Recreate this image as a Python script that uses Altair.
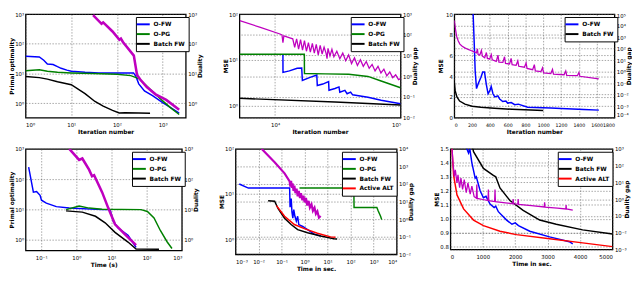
import altair as alt
import pandas as pd

# ---------------- colours / names ----------------
COLORS = {"O-FW": "#0000ff", "O-PG": "#008000", "Batch FW": "#000000", "Active ALT": "#ff0000"}
MAG = "#bf00bf"

# ---------------- panel 1: iteration number (log) ----------------
p1_x_ofw = [1, 2, 2.5, 3, 4, 5, 6, 8, 10, 20, 40, 100, 230, 260, 300, 400, 600, 1000, 1500, 2300]
p1_y_ofw = [38, 36, 28, 21, 20, 17, 15, 13, 12, 11, 10.5, 10.5, 10.5, 8, 4.5, 2.6, 1.8, 1.05, 0.72, 0.47]
p1_x_opg = [1, 2, 3, 5, 10, 30, 100, 200, 300, 400, 600, 1000, 1500, 2300]
p1_y_opg = [12.5, 13.5, 12, 11, 10.5, 10, 9.5, 8.5, 6.8, 4.5, 2.5, 1.2, 0.7, 0.42]
p1_x_bfw = [1, 2, 3, 5, 10, 20, 33, 50, 80, 112, 150, 300, 530]
p1_y_bfw = [8, 7.3, 6.5, 5.3, 4.2, 2.1, 1.15, 0.8, 0.58, 0.47, 0.48, 0.47, 0.46]
p1_x_dual = [30, 46, 50, 80, 113, 122, 135, 234, 275, 324, 450, 700, 1200, 2300]
p1_y_dual = [930, 470, 525, 260, 137, 150, 115, 40, 9, 6.3, 3.5, 2.0, 1.3, 0.6]

# ---------------- panel 2 ----------------
p2_x_ofw = [11550, 11560, 13000, 15000, 16300, 16500, 19000, 21500, 21700, 24000, 26700, 26900,
            30000, 32300, 32800, 36000, 37500, 40000, 41500, 45000, 55000, 70000, 100000]
p2_y_ofw = [13.3, 5.4, 5.8, 6.6, 6.7, 3.6, 4.2, 4.7, 2.8, 3.0, 3.4, 2.2,
            2.4, 2.6, 2.0, 2.2, 1.85, 2.0, 1.75, 1.7, 1.55, 1.34, 1.12]
p2_x_opg = [5200, 17100, 17150, 25000, 38600, 55000, 70000, 100000]
p2_y_opg = [13.3, 13.3, 5.1, 5.0, 4.9, 4.4, 3.5, 2.5]
p2_x_bfw = [5200, 30000, 100000]
p2_y_bfw = [1.47, 1.22, 1.05]
p2_x_dual = [5230, 7640, 10940, 11350, 11550, 11750, 13100, 13830, 14330, 14850, 15400, 15960,
             16550, 17150, 17780, 18440, 19100, 19820, 20540, 21290, 22080, 22880, 23710, 24580,
             25480, 25950, 26410, 27380, 28380, 29420, 31050, 32800, 34620, 36520, 38550, 40680,
             42930, 45310, 47820, 50470, 53270, 56230, 59340, 62630, 66100, 69760, 73630, 77710,
             82010, 86600, 91400, 96400, 100000]
p2_y_dual = [478, 228, 109, 98, 42, 88, 71, 64, 25, 64, 20, 58,
             18, 52, 16, 42, 14.6, 38, 13, 34, 10.7, 31, 11.8, 25,
             13, 7, 22, 9.6, 20, 8.7, 16, 7, 13, 5.6, 10.7, 4.1,
             7.8, 3.3, 6.3, 3.0, 5.1, 2.4, 3.7, 1.8, 3.0, 1.43, 2.19, 1.04,
             1.59, 0.85, 1.16, 0.68, 0.76]

# ---------------- panel 3 ----------------
p3_x_ofw = [205, 212, 225, 235, 250, 270, 300, 320, 340, 360, 380, 400, 415, 435, 455, 490, 510,
            545, 580, 600, 640, 680, 720, 825, 1085, 1200, 1457, 1625]
p3_y_ofw = [11, 10, 7, 4.5, 2.8, 3.3, 3.9, 4.4, 4.4, 3.2, 2.3, 2.6, 3.0, 2.3, 2.0, 2.1, 1.8,
            1.55, 1.6, 1.4, 1.45, 1.25, 1.3, 1.0, 0.92, 0.88, 0.78, 0.72]
p3_x_bfw = [0, 10, 30, 60, 120, 200, 300, 450, 650, 1000]
p3_y_bfw = [3.4, 2.6, 2.0, 1.6, 1.3, 1.1, 1.0, 0.9, 0.8, 0.68]
p3_x_dual = [0, 15, 26, 45, 63, 89, 119, 156, 193, 230, 249, 260, 268, 286, 305, 316, 342, 361,
             372, 398, 416, 427, 472, 491, 502, 546, 565, 576, 621, 639, 650, 695, 714, 725, 788,
             807, 818, 881, 900, 911, 974, 992, 1004, 1085, 1104, 1115, 1234, 1253, 1264, 1383,
             1401, 1412, 1624]
p3_y_dual = [28000, 4300, 1200, 460, 245, 158, 115, 84, 65, 50, 42, 95, 30, 27, 69, 22, 16, 45,
             14, 12.6, 30, 10.5, 7.6, 27, 6.6, 6.3, 19.5, 5.2, 4.6, 14, 4.0, 3.5, 8.6, 2.9, 2.4,
             5.5, 1.86, 1.46, 4.0, 1.13, 1.0, 2.1, 0.78, 0.68, 1.55, 0.60, 0.53, 1.13, 0.47, 0.44,
             0.83, 0.39, 0.23]

# ---------------- panel 4: time (s) ----------------
p4_x_ofw = [0.044, 0.06, 0.074, 0.093, 0.102, 0.14, 0.27, 0.63, 5.4, 9.1, 11.2, 15.5, 29.5, 50]
p4_y_ofw = [250, 37, 39, 29, 20, 16, 12.3, 11, 9.8, 9.8, 4.1, 2.4, 1.38, 0.55]
p4_x_opg = [0.51, 1.2, 2.3, 5.4, 69, 105, 162, 245, 380, 525]
p4_y_opg = [9.8, 12.9, 11, 10, 9.8, 8.5, 5.2, 2.0, 0.85, 0.51]
p4_x_bfw = [0.51, 1.48, 3.5, 6.6, 12.6, 29.5, 50, 224]
p4_y_bfw = [8.9, 8.1, 5.9, 3.6, 1.74, 0.83, 0.49, 0.48]
p4_x_dual = [0.63, 1.2, 1.48, 2.3, 2.8, 3.2, 5.4, 8.1, 12.6, 23.4, 50]
p4_y_dual = [1000, 430, 480, 205, 125, 135, 37, 11, 3.2, 1.55, 0.66]

# ---------------- panel 5 ----------------
p5_x_ofw = [0.00145, 0.0036, 0.224, 0.234, 0.263, 0.282, 0.309, 0.339, 0.38, 0.437, 0.5, 0.56,
            0.83, 1.35, 2.63, 5.0]
p5_y_ofw = [16.6, 13.5, 13.5, 5.1, 7.9, 4.0, 2.9, 4.5, 3.2, 2.5, 3.2, 2.1, 1.9, 1.62, 1.29, 1.17]
p5_x_opg = [0.6, 138, 141, 1380, 1585, 2000, 2240]
p5_y_opg = [13.5, 13.5, 5.0, 5.0, 4.2, 3.2, 2.7]
p5_x_bfw = [0.026, 0.05, 0.071, 0.135, 0.26, 0.5, 1.35, 5.0, 19, 26]
p5_y_bfw = [7.1, 6.9, 4.7, 2.9, 2.1, 1.62, 1.38, 1.17, 1.02, 1.0]
p5_x_alt = [0.06, 0.135, 0.36, 0.98, 3.6, 13.5, 22]
p5_y_alt = [5.5, 3.2, 2.1, 1.7, 1.35, 1.12, 1.1]
p5_x_dual = [0.0135, 0.05, 0.135, 0.224, 0.24, 0.26, 0.28, 0.3, 0.33, 0.36, 0.4, 0.45, 0.5, 0.56,
             0.63, 0.7, 0.8, 0.9, 1.0, 1.15, 1.3, 1.5, 1.7, 2.0, 2.3, 2.7, 3.1, 3.6, 4.2, 5.0]
p5_y_dual = [10000, 1740, 400, 141, 70, 150, 60, 110, 40, 80, 30, 55, 20, 40, 16, 30, 12, 22, 9,
             16, 6, 11, 4.5, 7, 3, 4.5, 2, 2.8, 1.2, 1.5]

# ---------------- panel 6 ----------------
p6_x_ofw = [500, 510, 560, 600, 663, 700, 765, 800, 918, 1020, 1100, 1224, 1350, 1400, 1480, 1735,
            1900, 2000, 2100, 2450, 3060, 3670, 3775]
p6_y_ofw = [1.55, 1.5, 1.47, 1.5, 1.40, 1.36, 1.29, 1.3, 1.2, 1.15, 1.16, 1.105, 1.08, 1.09, 1.05,
            0.99, 0.96, 0.97, 0.95, 0.91, 0.87, 0.835, 0.82]
p6_x_bfw = [650, 714, 1020, 1326, 1400, 1530, 1837, 2245, 2755, 3265, 4080, 5000]
p6_y_bfw = [1.55, 1.48, 1.36, 1.31, 1.3, 1.22, 1.13, 1.06, 0.99, 0.96, 0.92, 0.89]
p6_x_alt = [30, 50, 100, 204, 408, 714, 1020, 1530, 2040, 3060, 4080, 5000]
p6_y_alt = [1.6, 1.5, 1.31, 1.17, 1.07, 0.99, 0.95, 0.91, 0.886, 0.857, 0.827, 0.80]
p6_x_dual = [51, 82, 122, 153, 204, 235, 286, 326, 377, 428, 490, 541, 612, 663, 734, 800, 816,
             830, 1000, 1160, 1173, 1185, 1365, 1377, 1390, 1700, 1925, 1938, 1950, 2080, 2091,
             2105, 2500, 2895, 2907, 2920, 3300, 3560, 3570, 3580, 3775]
p6_y_dual = [1000, 135, 22, 55, 9.3, 28, 4.8, 18, 3.8, 14.5, 2.4, 9.3, 2.0, 6, 1.4, 1.15, 7.4,
             1.1, 0.95, 0.82, 3.8, 0.8, 0.72, 3.8, 0.71, 0.6, 0.53, 1.0, 0.52, 0.5, 1.0, 0.49,
             0.41, 0.34, 0.65, 0.33, 0.29, 0.26, 0.45, 0.26, 0.22]

# ---------------- helpers ----------------
SUP = ("['10\u207b\u2074','10\u207b\u00b3','10\u207b\u00b2','10\u207b\u00b9','10\u2070',"
       "'10\u00b9','10\u00b2','10\u00b3','10\u2074','10\u2075'][round(log(datum.value)/LN10)+4]")

EXT = 10


def make_df(items):
    rows = []
    for name, xs, ys in items:
        for i, (a, b) in enumerate(zip(xs, ys)):
            rows.append({"series": name, "x": a, "y": b, "i": i})
    return pd.DataFrame(rows)


def axis(title, cfg, orient=None, grid=True, flush=False):
    kw = dict(title=title, values=cfg["values"], grid=grid, labelOverlap=False)
    if cfg["type"] == "log":
        kw["labelExpr"] = SUP
    elif "format" in cfg:
        kw["format"] = cfg["format"]
    if "font" in cfg:
        kw["labelFontSize"] = cfg["font"]
    if flush:
        kw["labelFlush"] = True
    if orient is not None:
        kw["orient"] = orient
        kw["minExtent"] = EXT
        kw["maxExtent"] = EXT
        if orient == "right":
            kw["titleAngle"] = 270
            kw["titleBaseline"] = "top"
    return alt.Axis(**kw)


def scale(cfg):
    return alt.Scale(type=cfg["type"], domain=cfg["domain"], nice=False, zero=False)


def panel(items, dual_x, dual_y, xc, ylc, yrc, xt, ylt, yrt, w, h, rgrid, dual_w, rflush=False):
    names = [n for n, _, _ in items]
    lx = w - (56 if "Active ALT" in names else 51)
    dfl = make_df(items)
    dfr = make_df([("dual", dual_x, dual_y)])
    x = alt.X("x:Q", scale=scale(xc), axis=axis(xt, xc))
    left = alt.Chart(dfl).mark_line(strokeWidth=1.5, clip=True).encode(
        x=x,
        y=alt.Y("y:Q", scale=scale(ylc), axis=axis(ylt, ylc, orient="left")),
        color=alt.Color("series:N",
                        scale=alt.Scale(domain=names, range=[COLORS[n] for n in names]),
                        legend=alt.Legend(title=None, orient="none", legendX=lx, legendY=3,
                                          symbolType="M-1.9,0H1.9", symbolSize=49,
                                          symbolStrokeWidth=2, labelFontSize=6,
                                          labelFontWeight="bold", labelFont="DejaVu Sans",
                                          strokeColor="black", fillColor="white", padding=3,
                                          rowPadding=1, labelOffset=6, labelLimit=60)),
        detail="series:N",
        order="i:Q",
    )
    right = alt.Chart(dfr).mark_line(strokeWidth=dual_w, clip=True, color=MAG).encode(
        x=x,
        y=alt.Y("y:Q", scale=scale(yrc),
                axis=axis(yrt, yrc, orient="right", grid=rgrid, flush=rflush)),
        order="i:Q",
    )
    return alt.layer(left, right).resolve_scale(y="independent").properties(width=w, height=h)


def lg(lo, hi):
    return [10.0 ** e for e in range(lo, hi + 1)]


it_lbl = "Iteration number"

c1 = panel([("O-FW", p1_x_ofw, p1_y_ofw), ("O-PG", p1_x_opg, p1_y_opg), ("Batch FW", p1_x_bfw, p1_y_bfw)],
           p1_x_dual, p1_y_dual,
           {"type": "log", "domain": [1, 3200], "values": lg(0, 3)},
           {"type": "log", "domain": [0.33, 1000], "values": lg(0, 3)},
           {"type": "log", "domain": [0.33, 1000], "values": lg(0, 3)},
           it_lbl, "Primal optimality", "Duality", 164, 106, False, 2.6)

c2 = panel([("O-FW", p2_x_ofw, p2_y_ofw), ("O-PG", p2_x_opg, p2_y_opg), ("Batch FW", p2_x_bfw, p2_y_bfw)],
           p2_x_dual, p2_y_dual,
           {"type": "log", "domain": [5200, 100000], "values": lg(4, 5)},
           {"type": "log", "domain": [0.56, 100], "values": lg(0, 2)},
           {"type": "log", "domain": [0.01, 1000], "values": lg(-2, 3)},
           it_lbl, "MSE", "Duality gap", 165, 106, True, 1.3)

c3 = panel([("O-FW", p3_x_ofw, p3_y_ofw), ("Batch FW", p3_x_bfw, p3_y_bfw)],
           p3_x_dual, p3_y_dual,
           {"type": "linear", "domain": [0, 1800], "values": list(range(0, 1801, 200)), "format": "d",
            "font": 4.8},
           {"type": "linear", "domain": [0, 10], "values": [0, 2, 4, 6, 8, 10], "format": "d"},
           {"type": "log", "domain": [0.0001, 100000], "values": lg(-4, 5)},
           it_lbl, "MSE", "Duality gap", 164, 106, True, 1.3, rflush=True)

c4 = panel([("O-FW", p4_x_ofw, p4_y_ofw), ("O-PG", p4_x_opg, p4_y_opg), ("Batch FW", p4_x_bfw, p4_y_bfw)],
           p4_x_dual, p4_y_dual,
           {"type": "log", "domain": [0.036, 1000], "values": lg(-1, 3)},
           {"type": "log", "domain": [0.44, 1000], "values": lg(0, 3)},
           {"type": "log", "domain": [0.44, 1000], "values": lg(0, 3)},
           "Time (s)", "Primal optimality", "Duality", 160, 104, False, 2.6)

c5 = panel([("O-FW", p5_x_ofw, p5_y_ofw), ("O-PG", p5_x_opg, p5_y_opg), ("Batch FW", p5_x_bfw, p5_y_bfw),
            ("Active ALT", p5_x_alt, p5_y_alt)],
           p5_x_dual, p5_y_dual,
           {"type": "log", "domain": [0.001, 10000], "values": lg(-3, 4)},
           {"type": "log", "domain": [0.46, 100], "values": lg(0, 2)},
           {"type": "log", "domain": [0.01, 10000], "values": lg(-2, 4)},
           "Time in sec.", "MSE", "Duality gap", 165, 108, True, 2.2)

c6 = panel([("O-FW", p6_x_ofw, p6_y_ofw), ("Batch FW", p6_x_bfw, p6_y_bfw), ("Active ALT", p6_x_alt, p6_y_alt)],
           p6_x_dual, p6_y_dual,
           {"type": "linear", "domain": [0, 5000], "values": [0, 1000, 2000, 3000, 4000, 5000], "format": "d"},
           {"type": "linear", "domain": [0.78, 1.5], "values": [0.8, 0.9, 1.0, 1.1, 1.2, 1.3, 1.4, 1.5], "format": ".1f"},
           {"type": "log", "domain": [0.001, 1000], "values": lg(-3, 3)},
           "Time in sec.", "MSE", "Duality gap", 166, 103, True, 1.3)

row1 = alt.hconcat(c1, c2, c3, spacing=19).resolve_scale(color="independent").resolve_legend(color="independent")
row2 = alt.hconcat(c4, c5, c6, spacing=19).resolve_scale(color="independent").resolve_legend(color="independent")

chart = (
    alt.vconcat(row1, row2, spacing=10)
    .resolve_scale(color="independent")
    .resolve_legend(color="independent")
    .properties(padding={"left": 0, "top": 0, "right": 0, "bottom": 0})
    .configure_view(stroke="black", strokeWidth=1.3)
    .configure_axis(
        labelFont="DejaVu Sans", titleFont="DejaVu Sans", labelFontSize=5.5, titleFontSize=6,
        titleFontWeight="bold", labelColor="black", titleColor="black", ticks=False, domain=False,
        gridColor="#444444", gridDash=[1.5, 1.5], gridWidth=0.6, gridOpacity=0.8,
        labelPadding=2, titlePadding=1,
    )
    .configure_axisX(labelPadding=5)
)

chart.save("out.html", embed_options={"renderer": "svg", "actions": False})
